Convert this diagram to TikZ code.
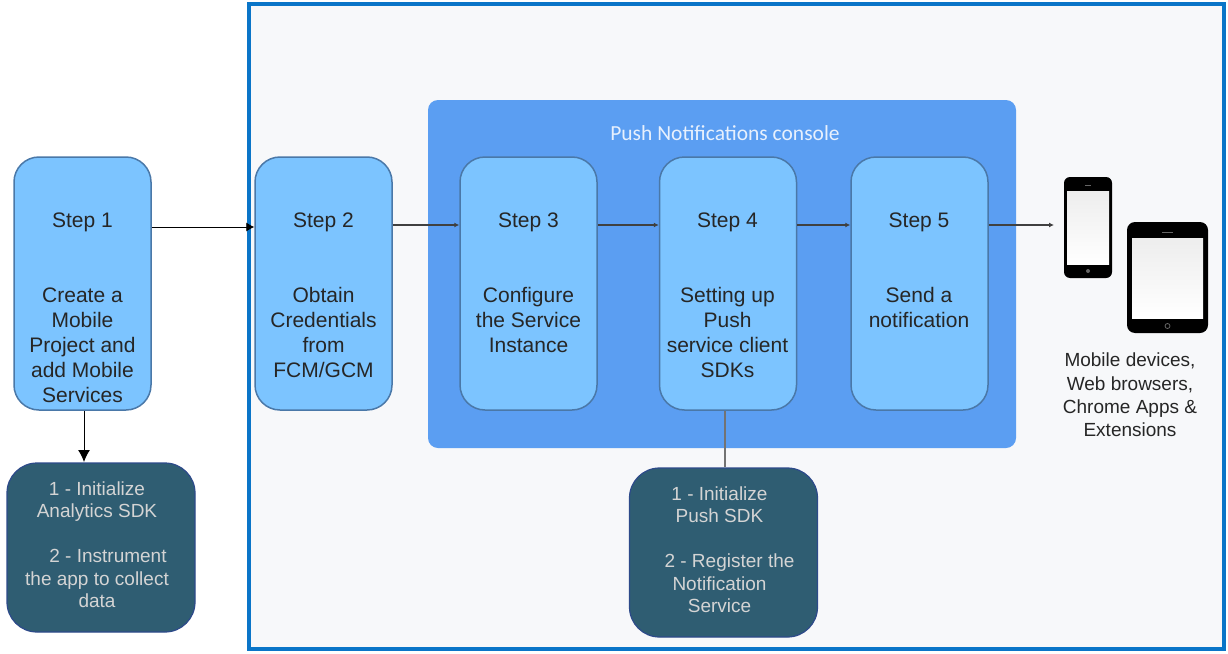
\documentclass[tikz,border=0pt]{standalone}
\usepackage{fontspec}
\setmainfont{Liberation Sans}
\newfontfamily\titlefont{Carlito}
\usetikzlibrary{positioning}
\usetikzlibrary{arrows.meta}
\definecolor{framecol}{HTML}{0A75C8}
\definecolor{panelcol}{HTML}{F7F8FA}
\definecolor{consolecol}{HTML}{5B9EF2}
\definecolor{stepcol}{HTML}{7CC4FF}
\definecolor{stepedge}{HTML}{4A78A8}
\definecolor{darkcol}{HTML}{2F5D72}
\definecolor{darkedge}{HTML}{2D4A8A}
\tikzset{
  stepbox/.style={draw=stepedge, fill=stepcol, line width=1.5pt, rounded corners=25pt,
    minimum width=137pt, minimum height=253pt, inner sep=0pt},
  steptext/.style={anchor=north, align=center, inner sep=0pt, text=black!85,
    font=\fontsize{21}{25}\selectfont},
  darkbox/.style={draw=darkedge, fill=darkcol, line width=1.2pt, rounded corners=30pt,
    minimum width=188pt, minimum height=169pt, inner sep=0pt},
  darktext/.style={anchor=north, align=center, inner sep=0pt, text=black!17,
    font=\fontsize{19}{22.5}\selectfont},
  flow/.style={-{Latex[length=5pt,width=5pt]}, black!75, line width=1.2pt},
  plain/.style={-{Latex[length=12pt,width=12pt]}, black, line width=1pt},
  screen/.style={top color=black!7, bottom color=white, draw=none}
}
\begin{document}
\begin{tikzpicture}[x=1pt, y=-1pt]
  \useasboundingbox (0,0) rectangle (1228,653);
  % frame and console
  \draw[framecol, fill=panelcol, line width=3.5pt] (249,4) rectangle (1224,649);
  \node[fill=consolecol, rounded corners=10pt, minimum width=588pt, minimum height=348pt,
    inner sep=0pt] (console) at (722,274) {};
  \node[text=white!85!consolecol, font=\titlefont\fontsize{21.5}{24}\selectfont, inner sep=0pt]
    (consoletitle) at (725,133) {Push Notifications console};
  % steps
  \node[stepbox] (s1) at (82.5,283.5) {};
  \node[stepbox] (s2) at (323.5,283.5) {};
  \node[stepbox] (s3) at (528.5,283.5) {};
  \node[stepbox] (s4) at (728,283.5) {};
  \node[stepbox] (s5) at (919.5,283.5) {};
  \node[steptext, below=56pt of s1.north] (t1) {Step 1\\[50pt]Create a\\Mobile\\Project and\\add Mobile\\Services};
  \node[steptext, below=56pt of s2.north] (t2) {Step 2\\[50pt]Obtain\\Credentials\\from\\FCM/GCM};
  \node[steptext, below=56pt of s3.north] (t3) {Step 3\\[50pt]Configure\\the Service\\Instance};
  \node[steptext, below=56pt of s4.north, xshift=-.5pt] (t4) {Step 4\\[50pt]Setting up\\Push\\service client\\SDKs};
  \node[steptext, below=56pt of s5.north, xshift=-.5pt] (t5) {Step 5\\[50pt]Send a\\notification};
  % dark boxes
  \node[darkbox] (d1) at (101,547.5) {};
  \node[darkbox] (d2) at (723.5,552.5) {};
  \node[darktext, below=19pt of d1.north, xshift=-4pt] (dt1)
    {1 - Initialize\\Analytics SDK\\[22.5pt]\hspace*{22pt}2 - Instrument\\the app to collect\\data};
  \node[darktext, below=19pt of d2.north, xshift=-4pt] (dt2)
    {1 - Initialize\\Push SDK\\[22.5pt]\hspace*{20pt}2 - Register the\\Notification\\Service};
  % connectors
  \coordinate (y1) at (0,227);
  \coordinate (y2) at (0,225);
  \coordinate (devicein) at (1054,225);
  \draw[-{Latex[length=8pt,width=9pt]}, black, line width=.8pt] (s1.east |- y1) -- (s2.west |- y1);
  \draw[flow] (s2.east |- y2) -- (s3.west |- y2);
  \draw[flow] (s3.east |- y2) -- (s4.west |- y2);
  \draw[flow] (s4.east |- y2) -- (s5.west |- y2);
  \draw[flow] (s5.east |- y2) -- (devicein);
  \draw[plain] (s1.south -| 84,0) -- (84,462);
  \draw[black!55, line width=2.5pt] (d2.north -| 725,0) -- (s4.south -| 725,0);
  % phone
  \fill[black, rounded corners=6pt] (1064,177) rectangle (1112,278);
  \shade[screen] (1067,191) rectangle (1109,264);
  \draw[black!60, line width=.8pt] (1085,185) -- (1091,185);
  \fill[black!60] (1088,271) circle (2pt);
  % tablet
  \fill[black, rounded corners=8pt] (1127,222) rectangle (1208,333);
  \shade[screen] (1132,238) rectangle (1203,318);
  \draw[black!60, line width=.8pt] (1162,232) -- (1173,232);
  \draw[black!60, line width=.8pt] (1167.5,326) circle (2.5pt);
  % devices label
  \node[steptext, text=black!85, font=\fontsize{19}{23.3}\selectfont] (devices) at (1130,353)
    {Mobile devices,\\Web browsers,\\Chrome Apps \&\\Extensions};
\end{tikzpicture}
\end{document}
